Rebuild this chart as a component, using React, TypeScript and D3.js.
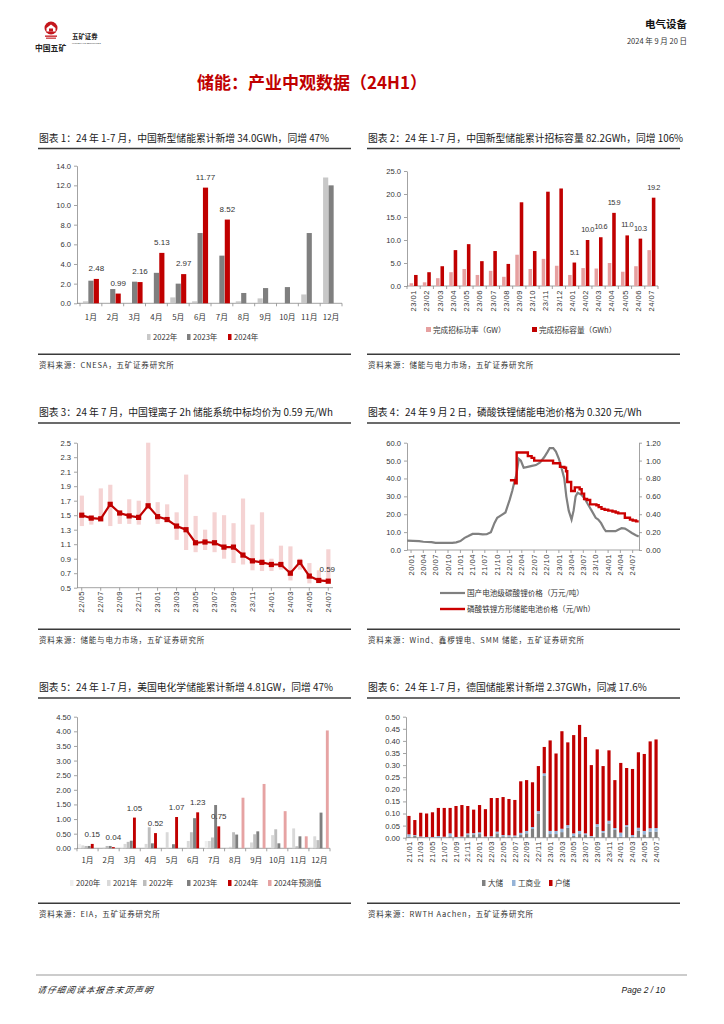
import React, { useRef, useEffect } from 'react';
import * as d3 from 'd3';

type Sel = d3.Selection<SVGSVGElement, unknown, null, undefined>;

const CJK = "'Noto Sans CJK SC', 'Liberation Sans', sans-serif";
const NUM = "'Liberation Sans', 'Noto Sans CJK SC', sans-serif";
const RED = '#c00000';
const AXIS = '#8c8c8c';
const TXT = '#333';

// ---- 图表1：中国新型储能月度新增 (GWh)
const monthsCN = ['1月', '2月', '3月', '4月', '5月', '6月', '7月', '8月', '9月', '10月', '11月', '12月'];
const cn2022 = [0.2, 0, 0, 0, 0.6, 0.2, 0, 0.2, 0.5, 0, 0.9, 12.8];
const cn2023 = [2.3, 1.45, 2.2, 3.1, 2.0, 7.15, 4.85, 1.05, 1.55, 1.65, 7.15, 12.0];
const cn2024 = [2.48, 0.99, 2.16, 5.13, 2.97, 11.77, 8.52];

// ---- 图表2：招标
const tenderMonths = ['23/01', '23/02', '23/03', '23/04', '23/05', '23/06', '23/07', '23/08', '23/09', '23/10', '23/11', '23/12',
  '24/01', '24/02', '24/03', '24/04', '24/05', '24/06', '24/07'];
const tenderGW = [0.6, 0.8, 1.7, 3.0, 3.7, 2.4, 3.3, 2.0, 6.8, 3.7, 5.9, 4.4, 2.4, 3.9, 3.8, 5.0, 3.1, 4.3, 7.8];
const tenderGWh = [2.4, 3.0, 4.3, 7.8, 9.1, 5.4, 7.6, 4.8, 18.2, 7.6, 20.5, 21.2, 5.1, 10.0, 10.6, 15.9, 11.0, 10.3, 19.2];

// ---- 图表3：2h 储能系统中标价 (元/Wh)
const priceMonths = ['22/05', '22/06', '22/07', '22/08', '22/09', '22/10', '22/11', '22/12',
  '23/01', '23/02', '23/03', '23/04', '23/05', '23/06', '23/07', '23/08', '23/09', '23/10', '23/11', '23/12',
  '24/01', '24/02', '24/03', '24/04', '24/05', '24/06', '24/07'];
const priceAvg = [1.50, 1.46, 1.45, 1.65, 1.53, 1.49, 1.47, 1.63, 1.48, 1.44, 1.35, 1.30, 1.12, 1.13, 1.12, 1.06, 1.06, 0.95, 0.87, 0.85, 0.82, 0.82, 0.70, 0.85, 0.66, 0.60, 0.59];
const priceLow = [1.35, 1.37, 1.45, 1.35, 1.38, 1.38, 1.37, 1.63, 1.38, 1.44, 1.16, 1.02, 0.99, 1.02, 0.99, 0.90, 0.84, 0.82, 0.74, 0.73, 0.73, 0.75, 0.60, 0.75, 0.56, 0.57, 0.57];
const priceHigh = [1.77, 1.47, 1.87, 1.92, 1.53, 1.72, 1.70, 2.50, 1.68, 1.65, 1.54, 2.06, 1.49, 1.30, 1.54, 1.50, 1.39, 1.73, 1.37, 1.54, 0.90, 1.08, 1.07, 0.90, 0.84, 0.74, 1.03];

// ---- 图表4：碳酸锂 (万元/吨) 与 储能电池 (元/Wh)
const li2co3: [string, number][] = [
  ['2019-12-03', 5.2], ['2020-01-15', 5.1], ['2020-03-01', 5.0], ['2020-04-01', 4.6], ['2020-06-01', 4.4],
  ['2020-07-01', 4.0], ['2020-11-01', 4.0], ['2020-12-01', 4.3], ['2021-01-01', 5.0], ['2021-02-01', 6.8],
  ['2021-03-01', 7.8], ['2021-04-01', 9.0], ['2021-05-15', 9.0], ['2021-06-15', 8.7], ['2021-07-15', 8.8],
  ['2021-08-15', 10.0], ['2021-09-10', 15.0], ['2021-10-01', 18.0], ['2021-11-01', 19.5], ['2021-12-01', 21.0],
  ['2022-01-01', 28.0], ['2022-01-20', 33.0], ['2022-02-05', 38.0], ['2022-02-20', 42.0], ['2022-03-10', 51.0],
  ['2022-03-25', 50.0], ['2022-04-15', 46.0], ['2022-05-15', 46.5], ['2022-06-15', 47.0], ['2022-07-15', 47.5],
  ['2022-08-15', 49.0], ['2022-09-15', 52.0], ['2022-10-10', 55.0], ['2022-10-25', 57.0], ['2022-11-20', 57.0],
  ['2022-12-10', 55.0], ['2023-01-01', 51.0], ['2023-01-20', 46.0], ['2023-02-10', 40.0], ['2023-02-25', 30.0],
  ['2023-03-15', 22.0], ['2023-04-05', 17.0], ['2023-04-20', 22.0], ['2023-05-05', 30.0], ['2023-05-20', 32.0],
  ['2023-06-15', 31.0], ['2023-07-10', 29.0], ['2023-08-01', 26.0], ['2023-09-01', 22.0], ['2023-10-01', 18.0],
  ['2023-10-20', 17.0], ['2023-11-10', 15.0], ['2023-12-01', 12.0], ['2023-12-15', 10.5], ['2024-01-15', 10.5],
  ['2024-02-25', 10.5], ['2024-03-20', 11.5], ['2024-04-10', 12.2], ['2024-05-05', 12.0], ['2024-05-30', 10.8],
  ['2024-06-25', 9.5], ['2024-07-25', 8.3], ['2024-08-15', 7.6],
];
const lfpCell: [string, number][] = [
  ['2022-01-03', 0.78], ['2022-02-11', 0.745], ['2022-02-22', 1.09], ['2022-05-16', 1.05], ['2022-06-13', 1.03],
  ['2022-07-02', 1.00], ['2022-11-19', 0.97], ['2023-01-09', 0.93], ['2023-02-11', 0.92], ['2023-02-23', 0.88],
  ['2023-03-04', 0.76], ['2023-04-02', 0.66], ['2023-04-29', 0.70], ['2023-06-04', 0.68], ['2023-06-19', 0.63],
  ['2023-07-07', 0.57], ['2023-07-29', 0.56], ['2023-08-21', 0.51], ['2023-10-06', 0.50], ['2023-10-23', 0.48],
  ['2023-11-13', 0.46], ['2023-12-06', 0.45], ['2024-01-02', 0.44], ['2024-02-02', 0.43], ['2024-02-26', 0.42],
  ['2024-03-16', 0.41], ['2024-05-04', 0.36], ['2024-06-11', 0.34], ['2024-07-01', 0.33], ['2024-07-26', 0.32],
  ['2024-08-15', 0.32],
];

// ---- 图表5：美国电化学储能 (GW)
const us2020 = [0.15, 0, 0.05, 0, 0, 0, 0.25, 0.02, 0, 0, 0, 0.05];
const us2021 = [0.10, 0.02, 0.15, 0.15, 0.55, 0.25, 0.25, 0.05, 0.20, 0.45, 0.68, 0.41];
const us2022 = [0.08, 0.08, 0.22, 0.72, 0, 0.55, 0.37, 0.55, 0.48, 0.65, 0.07, 0.28];
const us2023 = [0.08, 0.08, 0.26, 0.17, 0.14, 1.03, 1.48, 0.47, 0.58, 0.17, 0.41, 1.22];
const us2024 = [0.15, 0.04, 1.05, 0.52, 1.07, 1.23, 0.75];
const us2024f = [0, 0, 0, 0, 0, 0, 0, 1.73, 2.20, 1.27, 0.41, 4.03];

// ---- 图表6：德国储能 (GWh)
const deMonths = ['21/01', '21/02', '21/03', '21/04', '21/05', '21/06', '21/07', '21/08', '21/09', '21/10', '21/11', '21/12',
  '22/01', '22/02', '22/03', '22/04', '22/05', '22/06', '22/07', '22/08', '22/09', '22/10', '22/11', '22/12',
  '23/01', '23/02', '23/03', '23/04', '23/05', '23/06', '23/07', '23/08', '23/09', '23/10', '23/11', '23/12',
  '24/01', '24/02', '24/03', '24/04', '24/05', '24/06', '24/07'];
const deUtility = [0.004, 0.008, 0.002, 0.001, 0.001, 0.002, 0.001, 0.006, 0.001, 0.002, 0.011, 0.014,
  0.015, 0.002, 0.003, 0.018, 0.006, 0.005, 0.004, 0.011, 0.018, 0.036, 0.100, 0.255,
  0.015, 0.015, 0.023, 0.041, 0.007, 0.015, 0.011, 0.004, 0.045, 0.021, 0.059, 0.032,
  0.004, 0.045, 0.004, 0.029, 0.014, 0.025, 0.025];
const deCI = [0.010, 0.003, 0.003, 0.002, 0.002, 0.005, 0.003, 0.012, 0.002, 0.003, 0.007, 0.005,
  0.007, 0.003, 0.003, 0.007, 0.005, 0.005, 0.005, 0.009, 0.010, 0.008, 0.010, 0.011,
  0.013, 0.013, 0.014, 0.011, 0.011, 0.013, 0.007, 0.003, 0.011, 0.007, 0.011, 0.008,
  0.017, 0.007, 0.007, 0.012, 0.014, 0.014, 0.015];
const deHome = [0.076, 0.062, 0.098, 0.097, 0.102, 0.116, 0.119, 0.105, 0.128, 0.130, 0.113, 0.097,
  0.113, 0.113, 0.158, 0.139, 0.157, 0.150, 0.147, 0.213, 0.210, 0.185, 0.186, 0.109,
  0.374, 0.320, 0.403, 0.342, 0.406, 0.438, 0.398, 0.293, 0.309, 0.268, 0.291, 0.198,
  0.288, 0.236, 0.273, 0.312, 0.318, 0.359, 0.366];

const parseDay = d3.timeParse('%Y-%m-%d');

function styleAxis(g: any) {
  g.select('.domain').attr('stroke', AXIS).attr('stroke-width', 0.8);
  g.selectAll('.tick line').attr('stroke', AXIS).attr('stroke-width', 0.8);
  g.selectAll('.tick text').attr('fill', TXT).attr('font-family', NUM).attr('font-size', 7.6);
}

function leftAxis(svg: Sel, y: d3.ScaleLinear<number, number>, x: number, ticks: number[], fmt: string) {
  svg.append('g').attr('transform', `translate(${x},0)`)
    .call(d3.axisLeft(y).tickValues(ticks).tickFormat(d3.format(fmt) as any).tickSize(3).tickSizeOuter(0).tickPadding(3))
    .call(styleAxis);
}

function bandBase(svg: Sel, x: d3.ScaleBand<string>, y0: number, every = 1) {
  const [a, b] = x.range();
  svg.append('line').attr('x1', a).attr('x2', b).attr('y1', y0).attr('y2', y0).attr('stroke', AXIS).attr('stroke-width', 0.8);
  const edges = x.domain().map(d => x(d)!).filter((_, i) => i % every === 0).concat([b]);
  svg.append('g').selectAll('line').data(edges).join('line')
    .attr('x1', d => d).attr('x2', d => d).attr('y1', y0).attr('y2', y0 + 3)
    .attr('stroke', AXIS).attr('stroke-width', 0.8);
}

function rotLabels(svg: Sel, items: { x: number; t: string }[], y0: number) {
  svg.append('g').selectAll('text').data(items).join('text')
    .attr('transform', d => `translate(${d.x},${y0}) rotate(-90)`)
    .attr('text-anchor', 'end').attr('dy', '0.35em')
    .attr('font-family', NUM).attr('font-size', 7.6).attr('letter-spacing', 0.5).attr('fill', TXT)
    .text(d => d.t);
}

function rectLegend(svg: Sel, items: { x: number; color: string; label: string }[], y: number, w = 3.5, h = 6) {
  const g = svg.append('g');
  items.forEach(it => {
    g.append('rect').attr('x', it.x).attr('y', y - h / 2).attr('width', w).attr('height', h).attr('fill', it.color);
    g.append('text').attr('x', it.x + w + 2.5).attr('y', y + 2.8).attr('font-family', CJK).attr('font-size', 7.6)
      .attr('fill', TXT).text(it.label);
  });
}

function panelFrame(svg: Sel, x0: number, x1: number, top: number, title: string, bottom: number, source: string) {
  svg.append('text').attr('x', x0 + 1).attr('y', top).attr('font-family', CJK).attr('font-size', 9.8)
    .attr('fill', '#1a1a1a').text(title);
  svg.append('line').attr('x1', x0).attr('x2', x1).attr('y1', top + 7).attr('y2', top + 7)
    .attr('stroke', '#3a3a3a').attr('stroke-width', 1.4);
  svg.append('line').attr('x1', x0).attr('x2', x1).attr('y1', bottom).attr('y2', bottom)
    .attr('stroke', '#3a3a3a').attr('stroke-width', 1.4);
  svg.append('text').attr('x', x0 + 1).attr('y', bottom + 13.5).attr('font-family', CJK).attr('font-size', 7.5)
    .attr('letter-spacing', 0.8).attr('fill', TXT).text(source);
}

function drawHeader(svg: Sel) {
  const g = svg.append('g');
  // 五矿标志（简化）
  g.append('circle').attr('cx', 51).attr('cy', 28).attr('r', 6.5).attr('fill', '#c4161c');
  g.append('path').attr('d', 'M46.5,31.5 L46.5,28 L51,24.5 L55.5,28 L55.5,31.5 Z').attr('fill', '#fff');
  g.append('rect').attr('x', 49).attr('y', 28.5).attr('width', 4).attr('height', 3).attr('fill', '#c4161c');
  g.append('rect').attr('x', 45).attr('y', 35.5).attr('width', 12).attr('height', 1.3).attr('fill', '#c4161c');
  g.append('rect').attr('x', 46).attr('y', 37.6).attr('width', 10).attr('height', 1.1).attr('fill', '#c4161c');
  g.append('text').attr('x', 35).attr('y', 51).attr('font-family', CJK).attr('font-weight', 'bold')
    .attr('font-size', 7.8).attr('fill', '#222').text('中国五矿');
  g.append('text').attr('x', 72).attr('y', 39).attr('font-family', CJK).attr('font-weight', 'bold')
    .attr('font-size', 6.4).attr('fill', '#222').text('五矿证券');
  g.append('text').attr('x', 72).attr('y', 43.5).attr('font-family', NUM).attr('font-size', 2.4)
    .attr('fill', '#444').text('MINMETALS SECURITIES');
  g.append('text').attr('x', 687).attr('y', 28).attr('text-anchor', 'end').attr('font-family', CJK)
    .attr('font-weight', 'bold').attr('font-size', 10.5).attr('fill', '#111').text('电气设备');
  g.append('text').attr('x', 687).attr('y', 43.5).attr('text-anchor', 'end').attr('font-family', CJK)
    .attr('font-size', 7.5).attr('fill', '#333').text('2024 年 9 月 20 日');
  g.append('text').attr('x', 197).attr('y', 89).attr('font-family', CJK).attr('font-weight', 'bold')
    .attr('font-size', 17).attr('fill', RED).text('储能：产业中观数据（24H1）');
  // 页脚
  g.append('line').attr('x1', 36).attr('x2', 687).attr('y1', 975).attr('y2', 975).attr('stroke', '#999').attr('stroke-width', 1.2);
  g.append('text').attr('x', 37).attr('y', 993).attr('font-family', CJK).attr('font-style', 'italic')
    .attr('font-size', 8.5).attr('letter-spacing', 1.2).attr('fill', '#222')
    .attr('transform', 'skewX(-10)').attr('transform-origin', '37 993').text('请仔细阅读本报告末页声明');
  g.append('text').attr('x', 665).attr('y', 993).attr('text-anchor', 'end').attr('font-family', NUM)
    .attr('font-style', 'italic').attr('font-size', 8.5).attr('fill', '#222').text('Page  2 / 10');
}

function drawChart1(svg: Sel) {
  panelFrame(svg, 38, 351, 141.5, '图表 1：24 年 1-7 月，中国新型储能累计新增 34.0GWh，同增 47%', 354.3,
    '资料来源：CNESA，五矿证券研究所');
  const x = d3.scaleBand().domain(monthsCN).range([80, 342]);
  const y = d3.scaleLinear().domain([0, 14]).range([303.3, 165.7]);
  const inner = d3.scaleBand().domain(['2022', '2023', '2024']).range([-8, 8]).paddingInner(0.05);
  leftAxis(svg, y, 77, d3.range(0, 14.01, 2), '.1f');
  svg.append('line').attr('x1', 77).attr('x2', 80).attr('y1', 303.3).attr('y2', 303.3).attr('stroke', AXIS);
  bandBase(svg, x, 303.3);
  const series: [string, number[], string][] = [['2022', cn2022, '#c8c8c8'], ['2023', cn2023, '#7f7f7f'], ['2024', cn2024, RED]];
  series.forEach(([k, vals, color]) => {
    svg.append('g').selectAll('rect').data(vals).join('rect')
      .attr('x', (_, i) => x(monthsCN[i])! + x.bandwidth() / 2 + inner(k)!)
      .attr('width', inner.bandwidth())
      .attr('y', d => y(d)).attr('height', d => y(0) - y(d)).attr('fill', color);
  });
  svg.append('g').selectAll('text').data(cn2024).join('text')
    .attr('x', (_, i) => x(monthsCN[i])! + x.bandwidth() / 2 + inner('2024')! + inner.bandwidth() / 2)
    .attr('y', d => y(d) - 8).attr('text-anchor', 'middle').attr('font-family', NUM).attr('font-size', 8)
    .attr('fill', TXT).text(d => d3.format('.2f')(d));
  svg.append('g').selectAll('text').data(monthsCN).join('text')
    .attr('x', d => x(d)! + x.bandwidth() / 2).attr('y', 320).attr('text-anchor', 'middle')
    .attr('font-family', CJK).attr('font-size', 7.8).attr('fill', TXT).text(d => d);
  rectLegend(svg, [
    { x: 147, color: '#c8c8c8', label: '2022年' },
    { x: 187, color: '#7f7f7f', label: '2023年' },
    { x: 228, color: RED, label: '2024年' },
  ], 337);
}

function drawChart2(svg: Sel) {
  panelFrame(svg, 367, 680, 141.5, '图表 2：24 年 1-7 月，中国新型储能累计招标容量 82.2GWh，同增 106%', 354.3,
    '资料来源：储能与电力市场，五矿证券研究所');
  const x = d3.scaleBand().domain(tenderMonths).range([407, 658]);
  const y = d3.scaleLinear().domain([0, 25]).range([286, 171]);
  const inner = d3.scaleBand().domain(['gw', 'gwh']).range([-4, 4]).paddingInner(0.2);
  leftAxis(svg, y, 407, d3.range(0, 25.01, 5), '.1f');
  bandBase(svg, x, 286);
  const series: [string, number[], string][] = [['gw', tenderGW, '#e6a0a0'], ['gwh', tenderGWh, RED]];
  series.forEach(([k, vals, color]) => {
    svg.append('g').selectAll('rect').data(vals).join('rect')
      .attr('x', (_, i) => x(tenderMonths[i])! + x.bandwidth() / 2 + inner(k)!)
      .attr('width', inner.bandwidth())
      .attr('y', d => y(d)).attr('height', d => y(0) - y(d)).attr('fill', color);
  });
  const labelled = tenderGWh.map((v, i) => ({ v, m: tenderMonths[i] })).filter(d => d.m.startsWith('24'));
  svg.append('g').selectAll('text').data(labelled).join('text')
    .attr('x', d => x(d.m)! + x.bandwidth() / 2 + inner('gwh')! + inner.bandwidth() / 2)
    .attr('y', d => y(d.v) - 8).attr('text-anchor', 'middle').attr('font-family', NUM).attr('font-size', 7.4)
    .attr('letter-spacing', -0.45).attr('fill', TXT).text(d => d3.format('.1f')(d.v));
  rotLabels(svg, tenderMonths.map(m => ({ x: x(m)! + x.bandwidth() / 2, t: m })), 290);
  const g = svg.append('g');
  g.append('rect').attr('x', 426).attr('y', 327).attr('width', 5).attr('height', 5).attr('fill', '#e6a0a0');
  g.append('text').attr('x', 433).attr('y', 333).attr('font-family', CJK).attr('font-size', 7.6).attr('fill', TXT).text('完成招标功率（GW）');
  g.append('rect').attr('x', 532).attr('y', 327).attr('width', 5).attr('height', 5).attr('fill', RED);
  g.append('text').attr('x', 539).attr('y', 333).attr('font-family', CJK).attr('font-size', 7.6).attr('fill', TXT).text('完成招标容量（GWh）');
}

function drawChart3(svg: Sel) {
  panelFrame(svg, 38, 351, 416, '图表 3：24 年 7 月，中国锂离子 2h 储能系统中标均价为 0.59 元/Wh', 629.3,
    '资料来源：储能与电力市场，五矿证券研究所');
  const x = d3.scaleBand().domain(priceMonths).range([77, 333]);
  const y = d3.scaleLinear().domain([0.5, 2.5]).range([587.7, 442.7]);
  const cx = (m: string) => x(m)! + x.bandwidth() / 2;
  leftAxis(svg, y, 77, d3.range(0.5, 2.51, 0.2), '.1f');
  svg.append('line').attr('x1', 77).attr('x2', 333).attr('y1', 587.7).attr('y2', 587.7).attr('stroke', AXIS).attr('stroke-width', 0.8);
  svg.append('g').selectAll('line').data(priceMonths.filter((_, i) => i % 2 === 0)).join('line')
    .attr('x1', d => cx(d)).attr('x2', d => cx(d)).attr('y1', 587.7).attr('y2', 590.7).attr('stroke', AXIS).attr('stroke-width', 0.8);
  svg.append('g').selectAll('rect').data(priceMonths).join('rect')
    .attr('x', d => cx(d) - 2).attr('width', 4.2)
    .attr('y', (_, i) => y(priceHigh[i])).attr('height', (_, i) => Math.max(0.5, y(priceLow[i]) - y(priceHigh[i])))
    .attr('fill', '#f5d3d3');
  const line = d3.line<number>().x((_, i) => cx(priceMonths[i])).y(d => y(d));
  svg.append('path').datum(priceAvg).attr('d', line).attr('fill', 'none').attr('stroke', RED).attr('stroke-width', 2.2);
  svg.append('g').selectAll('rect').data(priceAvg).join('rect')
    .attr('x', (_, i) => cx(priceMonths[i]) - 2.6).attr('y', d => y(d) - 2.6).attr('width', 5.2).attr('height', 5.2).attr('fill', RED);
  const last = priceAvg.length - 1;
  svg.append('text').attr('x', cx(priceMonths[last]) - 1).attr('y', y(priceAvg[last]) - 9).attr('text-anchor', 'middle')
    .attr('font-family', NUM).attr('font-size', 8).attr('fill', TXT).text(d3.format('.2f')(priceAvg[last]));
  rotLabels(svg, priceMonths.filter((_, i) => i % 2 === 0).map(m => ({ x: cx(m), t: m })), 591);
}

function drawChart4(svg: Sel) {
  panelFrame(svg, 367, 680, 416, '图表 4：24 年 9 月 2 日，磷酸铁锂储能电池价格为 0.320 元/Wh', 629.3,
    '资料来源：Wind、鑫椤锂电、SMM 储能，五矿证券研究所');
  const x = d3.scaleTime().domain([new Date(2019, 11, 2), new Date(2024, 7, 17)]).range([407, 639]);
  const yL = d3.scaleLinear().domain([0, 60]).range([550, 442.7]);
  const yR = d3.scaleLinear().domain([0, 1.2]).range([550, 442.7]);
  leftAxis(svg, yL, 407, d3.range(0, 60.01, 10), '.1f');
  svg.append('g').attr('transform', 'translate(639,0)')
    .call(d3.axisRight(yR).tickValues(d3.range(0, 1.201, 0.2)).tickFormat(d3.format('.2f') as any).tickSize(3).tickSizeOuter(0).tickPadding(4))
    .call(styleAxis);
  svg.append('line').attr('x1', 407).attr('x2', 639).attr('y1', 550).attr('y2', 550).attr('stroke', AXIS).attr('stroke-width', 0.8);
  const ticks = d3.timeMonth.every(3)!.range(new Date(2020, 0, 1), new Date(2024, 7, 1));
  svg.append('g').selectAll('line').data(ticks).join('line')
    .attr('x1', d => x(d)).attr('x2', d => x(d)).attr('y1', 550).attr('y2', 553).attr('stroke', AXIS).attr('stroke-width', 0.8);
  rotLabels(svg, ticks.map(d => ({ x: x(d), t: d3.timeFormat('%y/%m')(d) })), 554);
  const lineL = d3.line<[string, number]>().x(d => x(parseDay(d[0])!)).y(d => yL(d[1]));
  svg.append('path').datum(li2co3).attr('d', lineL).attr('fill', 'none').attr('stroke', '#808080').attr('stroke-width', 2.2);
  const lineR = d3.line<[string, number]>().x(d => x(parseDay(d[0])!)).y(d => yR(d[1])).curve(d3.curveStepAfter);
  svg.append('path').datum(lfpCell).attr('d', lineR).attr('fill', 'none').attr('stroke', '#cc0000').attr('stroke-width', 2.4);
  const g = svg.append('g');
  g.append('line').attr('x1', 440).attr('x2', 465).attr('y1', 593).attr('y2', 593).attr('stroke', '#808080').attr('stroke-width', 2.2);
  g.append('text').attr('x', 467).attr('y', 596).attr('font-family', CJK).attr('font-size', 7.6).attr('fill', TXT).text('国产电池级碳酸锂价格（万元/吨）');
  g.append('line').attr('x1', 440).attr('x2', 465).attr('y1', 609).attr('y2', 609).attr('stroke', '#cc0000').attr('stroke-width', 2.4);
  g.append('text').attr('x', 467).attr('y', 612).attr('font-family', CJK).attr('font-size', 7.6).attr('fill', TXT).text('磷酸铁锂方形储能电池价格（元/Wh）');
}

function drawChart5(svg: Sel) {
  panelFrame(svg, 38, 351, 691, '图表 5：24 年 1-7 月，美国电化学储能累计新增 4.81GW，同增 47%', 903.3,
    '资料来源：EIA，五矿证券研究所');
  const x = d3.scaleBand().domain(monthsCN).range([77, 330]);
  const y = d3.scaleLinear().domain([0, 4.5]).range([848.3, 716.7]);
  const keys = ['2020', '2021', '2022', '2023', '2024', '2024f'];
  const inner = d3.scaleBand().domain(keys).range([-9.3, 9.3]).paddingInner(0.08);
  leftAxis(svg, y, 77, d3.range(0, 4.501, 0.5), '.2f');
  bandBase(svg, x, 848.3);
  const series: [string, number[], string][] = [
    ['2020', us2020, '#efefef'], ['2021', us2021, '#d9d9d9'], ['2022', us2022, '#bdbdbd'],
    ['2023', us2023, '#7f7f7f'], ['2024', us2024, RED], ['2024f', us2024f, '#e6a3a3'],
  ];
  series.forEach(([k, vals, color]) => {
    svg.append('g').selectAll('rect').data(vals).join('rect')
      .attr('x', (_, i) => x(monthsCN[i])! + x.bandwidth() / 2 + inner(k)!)
      .attr('width', inner.bandwidth())
      .attr('y', d => y(d)).attr('height', d => y(0) - y(d)).attr('fill', color);
  });
  svg.append('g').selectAll('text').data(us2024).join('text')
    .attr('x', (_, i) => x(monthsCN[i])! + x.bandwidth() / 2 + inner('2024')! + inner.bandwidth() / 2)
    .attr('y', d => y(d) - 7).attr('text-anchor', 'middle').attr('font-family', NUM).attr('font-size', 8)
    .attr('fill', TXT).text(d => d3.format('.2f')(d));
  svg.append('g').selectAll('text').data(monthsCN).join('text')
    .attr('x', d => x(d)! + x.bandwidth() / 2).attr('y', 863).attr('text-anchor', 'middle')
    .attr('font-family', CJK).attr('font-size', 7.8).attr('fill', TXT).text(d => d);
  rectLegend(svg, [
    { x: 70, color: '#efefef', label: '2020年' },
    { x: 107, color: '#d9d9d9', label: '2021年' },
    { x: 143, color: '#bdbdbd', label: '2022年' },
    { x: 187, color: '#7f7f7f', label: '2023年' },
    { x: 228, color: RED, label: '2024年' },
    { x: 268, color: '#e6a3a3', label: '2024年预测值' },
  ], 883);
}

function drawChart6(svg: Sel) {
  panelFrame(svg, 367, 680, 691, '图表 6：24 年 1-7 月，德国储能累计新增 2.37GWh，同减 17.6%', 903.3,
    '资料来源：RWTH Aachen，五矿证券研究所');
  const x = d3.scaleBand().domain(deMonths).range([406, 659]);
  const y = d3.scaleLinear().domain([0, 0.5]).range([837.7, 716.7]);
  leftAxis(svg, y, 406, d3.range(0, 0.501, 0.05), '.2f');
  bandBase(svg, x, 837.7, 2);
  const rows = deMonths.map((m, i) => ({ m, utility: deUtility[i], ci: deCI[i], home: deHome[i] }));
  const stacked = d3.stack<any>().keys(['utility', 'ci', 'home'])(rows);
  const colors: Record<string, string> = { utility: '#808080', ci: '#95b3d7', home: RED };
  stacked.forEach(layer => {
    svg.append('g').selectAll('rect').data(layer).join('rect')
      .attr('x', d => x(d.data.m)! + x.bandwidth() / 2 - 1.6).attr('width', 3.2)
      .attr('y', d => y(d[1])).attr('height', d => y(d[0]) - y(d[1])).attr('fill', colors[layer.key]);
  });
  rotLabels(svg, deMonths.filter((_, i) => i % 2 === 0).map(m => ({ x: x(m)! + x.bandwidth() / 2, t: m })), 841);
  rectLegend(svg, [
    { x: 482, color: '#808080', label: '大储' },
    { x: 512, color: '#95b3d7', label: '工商业' },
    { x: 549, color: RED, label: '户储' },
  ], 883);
}

const App: React.FC = () => {
  const svgRef = useRef<SVGSVGElement | null>(null);

  useEffect(() => {
    if (!svgRef.current) return;
    const svg = d3.select(svgRef.current) as Sel;
    svg.selectAll('*').remove();
    drawHeader(svg);
    drawChart1(svg);
    drawChart2(svg);
    drawChart3(svg);
    drawChart4(svg);
    drawChart5(svg);
    drawChart6(svg);
  }, []);

  return (
    <svg
      ref={svgRef}
      width={724}
      height={1024}
      style={{ position: 'absolute', left: 0, top: 0, background: '#fff' }}
    />
  );
};

export default App;
